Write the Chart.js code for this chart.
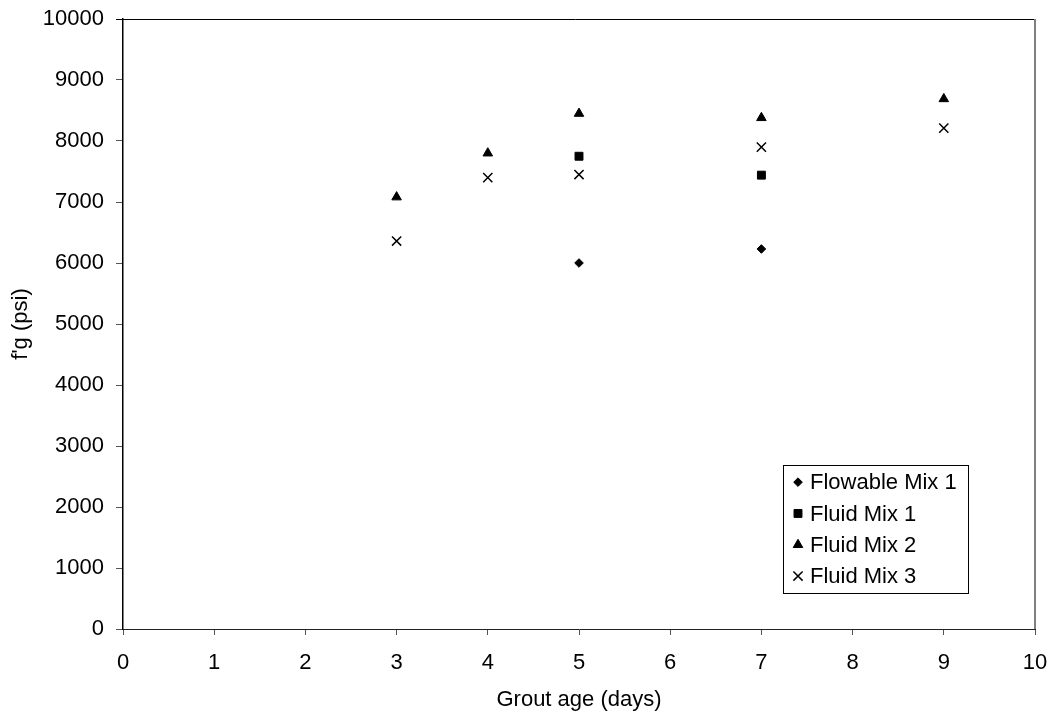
<!DOCTYPE html>
<html lang="en">
<head>
	<meta charset="utf-8" />
	<title>Grout strength vs age</title>
	<style>
		html, body { margin: 0; padding: 0; background: #fff; }
		#wrap { width: 1051px; height: 714px; }
	</style>
</head>
<body>
	<div id="wrap"><canvas id="c1"></canvas></div>
	<script src="https://cdn.jsdelivr.net/npm/chart.js@4/dist/chart.umd.min.js"></script>
	<script>
		// values
		var flowableMix1 = [{x: 5, y: 6000}, {x: 7, y: 6230}];
		var fluidMix1 = [{x: 5, y: 7750}, {x: 7, y: 7440}];
		var fluidMix2 = [{x: 3, y: 7080}, {x: 4, y: 7800}, {x: 5, y: 8450}, {x: 7, y: 8380}, {x: 9, y: 8690}];
		var fluidMix3 = [{x: 3, y: 6360}, {x: 4, y: 7400}, {x: 5, y: 7450}, {x: 7, y: 7900}, {x: 9, y: 8210}];
		var seriesNames = ['Flowable Mix 1', 'Fluid Mix 1', 'Fluid Mix 2', 'Fluid Mix 3'];
		var xTitle = 'Grout age (days)';
		var yTitle = "f'g (psi)";
	</script>
	<script>
	var FONT = '"Liberation Sans", Arial, sans-serif';
	var FSIZE = 22;

	function series(label, data, style, radius, bw)
	{
		return {
			label: label,
			data: data,
			showLine: false,
			pointStyle: style,
			pointRadius: radius,
			pointHoverRadius: radius,
			pointBorderWidth: bw,
			backgroundColor: '#000',
			borderColor: '#000',
			borderWidth: bw
		};
	}

	// drop the label padding the scales ask for, the layout padding decides the plot box
	function noPad(s)
	{
		s.paddingTop = 0;
		s.paddingBottom = 0;
		s.paddingLeft = 0;
		s.paddingRight = 0;
	}

	// top and right edges of the plot area
	var frame = {
		id: 'frame',
		afterDraw: function(chart) {
			var ctx = chart.ctx, a = chart.chartArea;
			ctx.save();
			ctx.lineWidth = 1;
			ctx.strokeStyle = '#000';
			ctx.beginPath();
			ctx.moveTo(a.left - 7, Math.round(a.top) + 0.5);
			ctx.lineTo(a.right, Math.round(a.top) + 0.5);
			ctx.stroke();
			ctx.strokeStyle = '#808080';
			ctx.lineWidth = 2;
			ctx.beginPath();
			ctx.moveTo(Math.round(a.right), a.top);
			ctx.lineTo(Math.round(a.right), a.bottom);
			ctx.stroke();
			ctx.restore();
		}
	};

	// boxed legend inside the plot area
	var legendBox = {
		id: 'legendBox',
		afterDraw: function(chart, args, o) {
			var ctx = chart.ctx, a = chart.chartArea;
			var sets = chart.data.datasets;
			ctx.save();
			ctx.font = FSIZE + 'px ' + FONT;
			var tw = 0;
			sets.forEach(function(ds) { tw = Math.max(tw, ctx.measureText(ds.label).width); });
			var left = Math.round(a.left + o.left), top = Math.round(a.top + o.top);
			var w = Math.round(o.markX + o.gap + tw + o.padRight);
			var h = Math.round(sets.length * o.row + o.padY * 2);
			ctx.fillStyle = '#fff';
			ctx.fillRect(left, top, w, h);
			ctx.strokeStyle = '#000';
			ctx.lineWidth = 1;
			ctx.strokeRect(left + 0.5, top + 0.5, w, h);
			sets.forEach(function(ds, i) {
				var cy = top + o.padY + o.row * (i + 0.5);
				var cx = left + o.markX;
				ctx.fillStyle = '#000';
				ctx.strokeStyle = '#000';
				ctx.lineWidth = ds.borderWidth;
				Chart.helpers.drawPoint(ctx, {
					pointStyle: ds.pointStyle,
					radius: ds.pointRadius,
					borderWidth: ds.borderWidth,
					rotation: 0
				}, cx, cy);
				ctx.fillStyle = '#000';
				ctx.textAlign = 'left';
				ctx.textBaseline = 'middle';
				ctx.fillText(ds.label, cx + o.gap, cy + 1);
			});
			ctx.restore();
		}
	};

	var config = {
		type: 'scatter',
		plugins: [frame, legendBox],
		data: {
			datasets: [
				series(seriesNames[0], flowableMix1, 'rectRot', 4.3, 1),
				series(seriesNames[1], fluidMix1, 'rect', 5.6, 1),
				series(seriesNames[2], fluidMix2, 'triangle', 5.5, 1),
				series(seriesNames[3], fluidMix3, 'crossRot', 6.5, 1.5)
			]
		},
		options: {
			animation: false,
			responsive: true,
			maintainAspectRatio: false,
			layout: { padding: { top: 19, right: 16, left: 0, bottom: 0 } },
			plugins: {
				legend: { display: false },
				tooltip: { enabled: false },
				legendBox: { left: 660, top: 446, markX: 15, gap: 12, padRight: 11, row: 31.3, padY: 1.5 }
			},
			scales: {
				x: {
					type: 'linear',
					min: 0,
					max: 10,
					ticks: { stepSize: 1, color: '#000', padding: 15, font: { family: FONT, size: FSIZE } },
					grid: { display: true, drawOnChartArea: false, tickLength: 6, color: '#555' },
					border: { color: '#222', width: 1 },
					title: { display: true, text: xTitle, color: '#000', padding: { top: 0, bottom: 1 }, font: { family: FONT, size: FSIZE } },
					afterFit: function(s) { s.height = 85; noPad(s); }
				},
				y: {
					type: 'linear',
					min: 0,
					max: 10000,
					ticks: {
						stepSize: 1000,
						color: '#000',
						padding: 12,
						font: { family: FONT, size: FSIZE },
						callback: function(v) { return String(v); }
					},
					grid: { display: true, drawOnChartArea: false, tickLength: 7, color: '#555' },
					border: { color: '#000', width: 1.5 },
					title: { display: true, text: yTitle, color: '#000', padding: { top: 8, bottom: 0 }, font: { family: FONT, size: FSIZE } },
					afterFit: function(s) { s.width = 123; noPad(s); }
				}
			}
		}
	};

	var chart = new Chart(document.getElementById('c1'), config);
	</script>
</body>
</html>
